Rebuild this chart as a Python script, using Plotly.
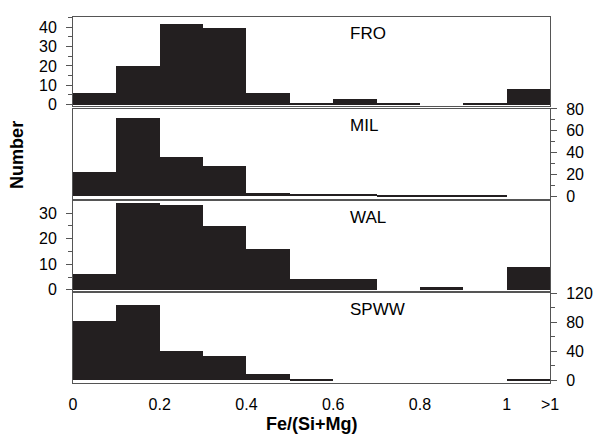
import plotly.graph_objects as go

# Bin centres of Fe/(Si+Mg); the last bin (1.0-1.1) collects all values >1
bin_centers = [0.05, 0.15, 0.25, 0.35, 0.45, 0.55, 0.65, 0.75, 0.85, 0.95, 1.05]
bin_width = 0.1

fro = [6, 20, 42, 40, 6, 1, 3, 1, 0, 1, 8]
mil = [22, 72, 36, 28, 3, 2, 2, 1, 1, 1, 0]
wal = [6, 34, 33, 25, 16, 4, 4, 0, 1, 0, 9]
spww = [82, 104, 41, 34, 9, 1, 0, 0, 0, 0, 2]

x_tickvals = [0, 0.2, 0.4, 0.6, 0.8, 1.0, 1.1]
x_ticktext = ["0", "0.2", "0.4", "0.6", "0.8", "1", ">1"]

panels = [
    # name, counts, y range, major tick step, minor tick step, axis side, domain
    ("FRO", fro, [-0.75, 45.5], 10, 5, "left", [0.7719, 0.9798]),
    ("MIL", mil, [-2.2, 80], 20, 10, "right", [0.5562, 0.7652]),
    ("WAL", wal, [-0.5, 34.6], 10, 5, "left", [0.3416, 0.5506]),
    ("SPWW", spww, [-3.3, 120], 40, 20, "right", [0.1281, 0.3371]),
]

FONT = "Liberation Sans, Arial, sans-serif"
BAR = "#231f20"
FRAME = "#555555"
W, H = 597, 445
ML, MR = 73, 47
PW = W - ML - MR

fig = go.Figure()
layout = dict(
    width=W, height=H,
    margin=dict(l=ML, r=MR, t=0, b=0),
    paper_bgcolor="white", plot_bgcolor="white",
    showlegend=False, bargap=0,
    font=dict(family=FONT, size=16, color="black"),
)

annotations = []
for i, (name, counts, yr, dt, mdt, side, dom) in enumerate(panels):
    n = i + 1
    xa = "x" if n == 1 else f"x{n}"
    ya = "y" if n == 1 else f"y{n}"
    fig.add_trace(go.Bar(
        x=bin_centers, y=counts, width=bin_width,
        marker=dict(color=BAR, line=dict(width=0)),
        xaxis=xa, yaxis=ya,
    ))
    xkey = "xaxis" if n == 1 else f"xaxis{n}"
    ykey = "yaxis" if n == 1 else f"yaxis{n}"
    bottom = n == len(panels)
    layout[xkey] = dict(
        range=[0, 1.1], anchor=ya, domain=[0, 1],
        showgrid=False, zeroline=False,
        showline=True, linecolor=FRAME, linewidth=1, mirror=True,
        ticks="",
        tickvals=x_tickvals, ticktext=x_ticktext,
        showticklabels=bottom,
        ticklabelstandoff=7,
        tickfont=dict(size=16),
    )
    if n > 1:
        layout[xkey]["matches"] = "x"
    layout[ykey] = dict(
        range=yr, domain=dom, anchor=xa, side=side,
        showgrid=False, zeroline=False,
        showline=True, linecolor=FRAME, linewidth=1, mirror=True,
        tick0=0, dtick=dt, ticks="outside", ticklen=6, tickcolor=FRAME,
        ticklabelstandoff=6,
        tickfont=dict(size=16),
        minor=dict(dtick=mdt, tick0=0, ticks="outside", ticklen=4, tickcolor=FRAME),
    )
    annotations.append(dict(
        x=0.634, y=1, xref=xa, yref=f"{ya} domain",
        xanchor="left", yanchor="top", yshift=-5,
        text=name, showarrow=False, font=dict(size=17),
    ))

annotations.append(dict(
    x=(17 - ML) / PW, y=1 - 152 / H, xref="paper", yref="paper",
    xanchor="center", yanchor="middle", textangle=-90,
    text="<b>Number</b>", showarrow=False, font=dict(size=18),
))
annotations.append(dict(
    x=(312 - ML) / PW, y=1 - 431 / H, xref="paper", yref="paper",
    xanchor="center", yanchor="middle",
    text="<b>Fe/(Si+Mg)</b>", showarrow=False, font=dict(size=18),
))
layout["annotations"] = annotations

fig.update_layout(**layout)
fig.write_html("out.html")
